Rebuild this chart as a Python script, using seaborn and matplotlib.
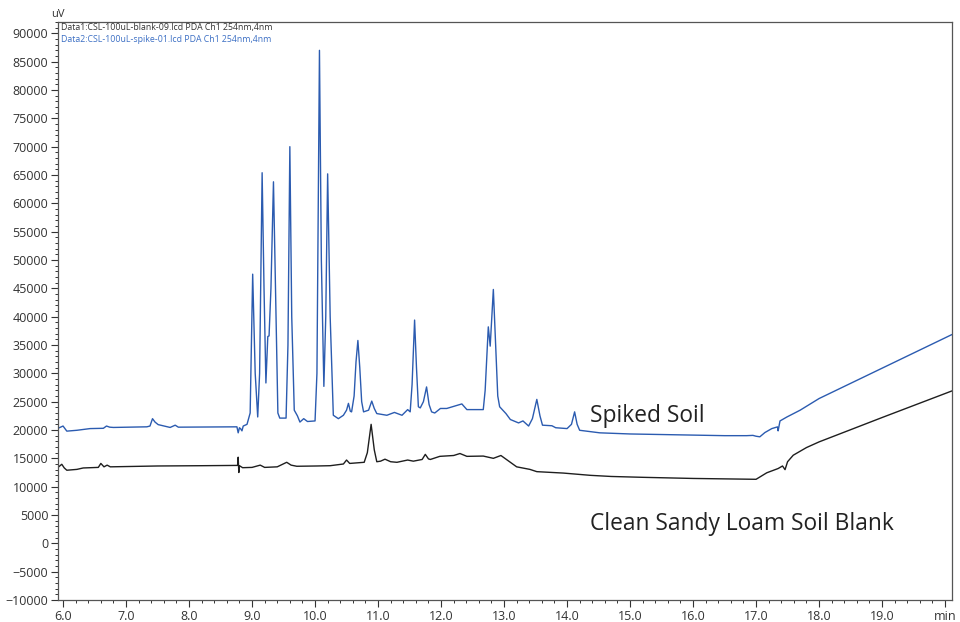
import matplotlib
matplotlib.use('Agg')
import matplotlib.pyplot as plt
import seaborn as sns
from matplotlib.ticker import MultipleLocator

# 加标样品 (Spiked Soil) 色谱图 - 读图得到的点
spike_t = [5.92, 6.00, 6.06, 6.22, 6.43, 6.64, 6.69, 6.74, 6.80, 7.33, 7.38, 7.42, 7.46, 7.51,
           7.70, 7.78, 7.83, 8.76, 8.78, 8.80, 8.82, 8.84, 8.86, 8.92, 8.97, 9.01, 9.05, 9.09,
           9.12, 9.16, 9.19, 9.22, 9.25, 9.27, 9.30, 9.34, 9.38, 9.41, 9.44, 9.54, 9.57, 9.60,
           9.63, 9.67, 9.72, 9.76, 9.82, 9.88, 10.00, 10.03, 10.07, 10.10, 10.14, 10.17, 10.20,
           10.24, 10.29, 10.37, 10.45, 10.50, 10.53, 10.56, 10.58, 10.62, 10.65, 10.68, 10.71,
           10.74, 10.77, 10.85, 10.90, 10.94, 10.98, 11.14, 11.26, 11.38, 11.47, 11.51, 11.54,
           11.58, 11.61, 11.64, 11.67, 11.72, 11.77, 11.81, 11.85, 11.90, 11.99, 12.09, 12.33,
           12.41, 12.67, 12.70, 12.75, 12.78, 12.83, 12.87, 12.90, 12.93, 13.03, 13.10, 13.23,
           13.30, 13.39, 13.45, 13.52, 13.57, 13.61, 13.76, 13.82, 14.00, 14.07, 14.12, 14.16,
           14.20, 14.52, 15.00, 15.50, 16.00, 16.50, 16.85, 16.95, 17.00, 17.06, 17.14, 17.25,
           17.34, 17.35, 17.38, 17.49, 17.70, 18.00, 19.00, 20.11]
spike_uv = [20300, 20700, 19800, 19950, 20250, 20300, 20700, 20500, 20450, 20560, 20700, 22000, 21400, 20950,
            20450, 20850, 20500, 20560, 19500, 20400, 20200, 19850, 20700, 21000, 23000, 47500, 30000, 22300,
            30000, 65400, 45000, 28300, 36500, 36600, 45000, 63800, 40000, 23000, 22100, 22100, 35000, 70000,
            40000, 23500, 22500, 21400, 22000, 21500, 21600, 30000, 87000, 50000, 27700, 40000, 65200,
            40000, 22600, 22000, 22600, 23500, 24700, 23300, 23200, 26000, 32000, 35800, 31000,
            25000, 23200, 23500, 25100, 23800, 22900, 22600, 23100, 22600, 23600, 23200, 28000,
            39400, 31000, 24100, 23900, 25000, 27600, 24500, 23200, 23000, 23800, 23800, 24600,
            23600, 23600, 27000, 38200, 34800, 44800, 34000, 26000, 24100, 22900, 21850, 21250,
            21600, 20700, 22000, 25400, 22500, 20850, 20750, 20400, 20250, 21000, 23200, 21000,
            19950, 19500, 19300, 19200, 19100, 19000, 19000, 19050, 18900, 18800, 19550, 20250,
            20550, 19850, 21600, 22300, 23500, 25550, 30900, 36850]

# 空白土壤 (Blank) 色谱图
blank_t = [5.92, 5.98, 6.02, 6.06, 6.22, 6.32, 6.56, 6.60, 6.65, 6.70, 6.75, 7.50, 8.20, 8.77,
           8.78, 8.79, 8.80, 8.85, 9.00, 9.13, 9.20, 9.40, 9.55, 9.62, 9.71, 10.03, 10.24, 10.45,
           10.50, 10.55, 10.78, 10.83, 10.89, 10.94, 10.98, 11.04, 11.11, 11.20, 11.30, 11.47,
           11.56, 11.70, 11.75, 11.80, 11.83, 11.98, 12.20, 12.30, 12.41, 12.67, 12.83, 12.95,
           13.05, 13.20, 13.41, 13.52, 13.94, 14.37, 14.70, 15.20, 16.00, 17.00, 17.17, 17.35,
           17.42, 17.46, 17.50, 17.59, 17.80, 18.00, 19.00, 20.11]
blank_uv = [13400, 13950, 13300, 12900, 13050, 13300, 13400, 14100, 13500, 13800, 13500, 13650, 13700, 13750,
            15200, 12500, 13700, 13350, 13400, 13800, 13400, 13500, 14300, 13800, 13600, 13650, 13700, 14000,
            14700, 14100, 14300, 16000, 21000, 16500, 14400, 14500, 14850, 14400, 14300, 14700,
            14500, 14800, 15700, 14900, 14800, 15350, 15500, 15850, 15350, 15400, 15000, 15500,
            14700, 13500, 13050, 12650, 12400, 12000, 11800, 11650, 11450, 11300, 12450, 13200,
            13650, 13000, 14400, 15550, 16900, 17900, 22200, 26900]

x_ticks = [6.0, 7.0, 8.0, 9.0, 10.0, 11.0, 12.0, 13.0, 14.0, 15.0, 16.0, 17.0, 18.0, 19.0, 20.0]
x_labels = ['6.0', '7.0', '8.0', '9.0', '10.0', '11.0', '12.0', '13.0', '14.0', '15.0',
            '16.0', '17.0', '18.0', '19.0', 'min']

legend_lines = ['Data1:CSL-100uL-blank-09.lcd PDA Ch1 254nm,4nm',
                'Data2:CSL-100uL-spike-01.lcd PDA Ch1 254nm,4nm']

sns.set_style('ticks')
plt.rcParams['font.family'] = ['Open Sans', 'DejaVu Sans']

fig = plt.figure(figsize=(9.6, 6.22), dpi=100)
ax = fig.add_axes([58 / 960, 22 / 622, 894 / 960, 578 / 622])

sns.lineplot(x=spike_t, y=spike_uv, ax=ax, color='#2b5bb0', linewidth=1.0, estimator=None, sort=False)
sns.lineplot(x=blank_t, y=blank_uv, ax=ax, color='#1e1e1e', linewidth=1.0, estimator=None, sort=False)

ax.set_xlim(5.92, 20.11)
ax.set_ylim(-10000, 92000)

# 刻度
ax.set_xticks(x_ticks)
ax.set_xticklabels(x_labels)
ax.xaxis.set_minor_locator(MultipleLocator(0.2))
ax.yaxis.set_major_locator(MultipleLocator(5000))
ax.yaxis.set_minor_locator(MultipleLocator(1000))
ax.tick_params(which='major', length=5, width=0.8, color='#333333', labelsize=9, labelcolor='#333333', pad=2)
ax.tick_params(which='minor', length=2.5, width=0.7, color='#333333')
for s in ax.spines.values():
    s.set_color('#555555')
    s.set_linewidth(0.9)

ax.set_xlabel('')
ax.set_ylabel('')
ax.text(0.0, 1.004, 'uV', transform=ax.transAxes, ha='center', va='bottom', fontsize=8, color='#333333')

# 文件名图例
ax.text(0.003, 0.991, legend_lines[0], transform=ax.transAxes, ha='left', va='center', fontsize=6.3, color='#333333')
ax.text(0.003, 0.970, legend_lines[1], transform=ax.transAxes, ha='left', va='center', fontsize=6.3, color='#3c6fc4')

# 曲线标注
ax.text(14.37, 22400, 'Spiked Soil', ha='left', va='center', fontsize=16.4, color='#222222')
ax.text(14.37, 3500, 'Clean Sandy Loam Soil Blank', ha='left', va='center', fontsize=16.4, color='#222222')

fig.savefig('out.png', dpi=100)
